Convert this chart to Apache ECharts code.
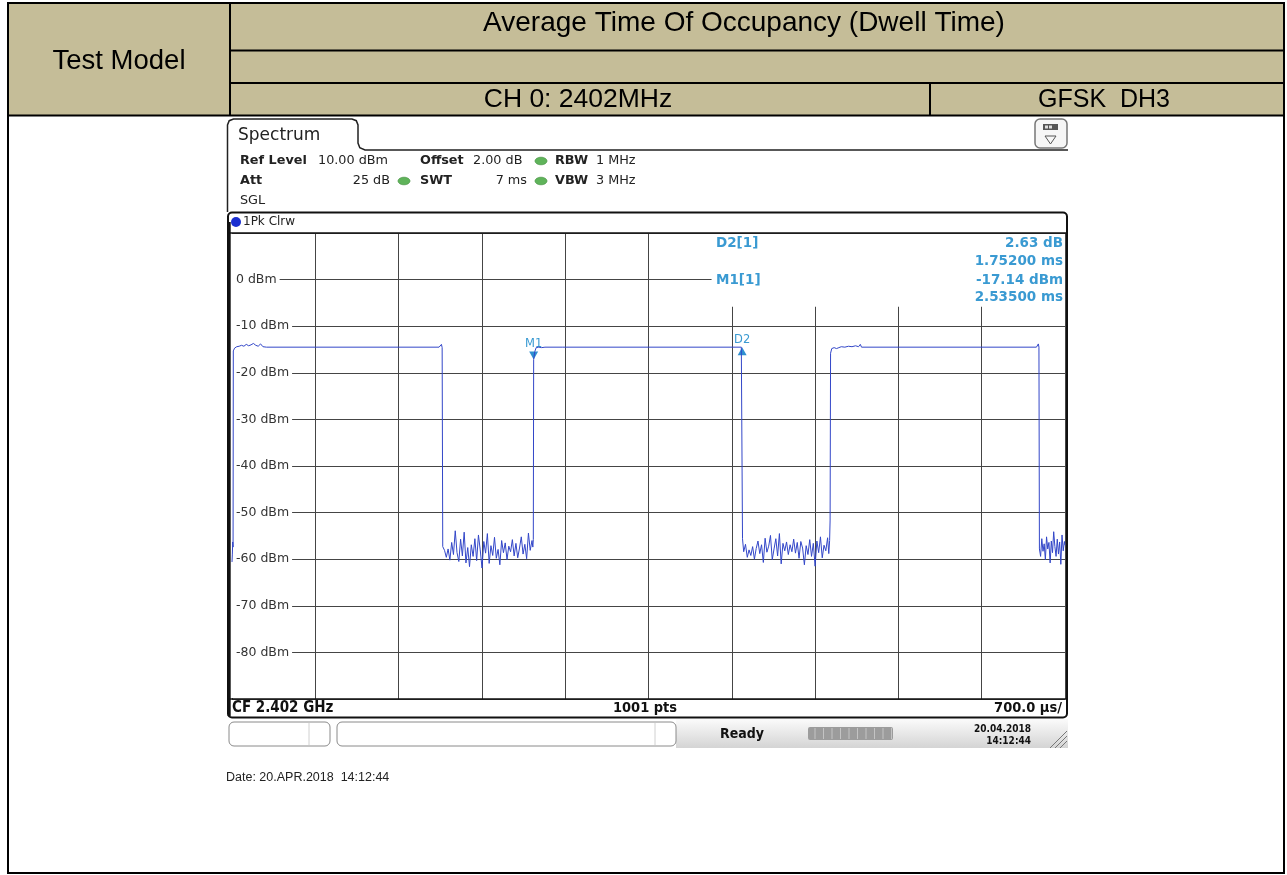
<!DOCTYPE html>
<html>
<head>
<meta charset="utf-8">
<title>Dwell Time CH 0</title>
<script src="https://cdn.jsdelivr.net/npm/echarts@6/dist/echarts.min.js"></script>
<style>
html, body { margin: 0; padding: 0; background: #fff; }
#chart { width: 1287px; height: 875px; }
</style>
</head>
<body>
<div id="chart"></div>
<script>
// trace: [time ms, level dBm]
const leadIn = [[0.000, -60.6], [0.003, -58.9], [0.006, -56.3], [0.009, -57.4]];
const pulse1 = [
  [0.011, -15.3], [0.022, -14.7], [0.040, -14.4], [0.060, -14.3], [0.080, -14.1], [0.100, -14.3],
  [0.120, -13.9], [0.140, -14.2], [0.160, -14.0], [0.180, -13.7], [0.200, -14.1], [0.220, -14.3],
  [0.240, -13.8], [0.260, -14.4], [0.290, -14.5], [1.740, -14.5], [1.752, -14.2], [1.760, -13.9],
  [1.766, -14.6]
];
const noiseA = [
  [1.771, -57.3], [1.786, -58.1], [1.801, -59.6], [1.816, -57.8], [1.831, -60.2], [1.846, -56.4],
  [1.861, -59.0], [1.876, -53.9], [1.891, -58.6], [1.906, -60.5], [1.921, -55.7], [1.936, -59.3],
  [1.951, -54.2], [1.966, -60.8], [1.981, -57.5], [1.996, -61.6], [2.011, -56.9], [2.026, -59.4],
  [2.041, -55.6], [2.056, -60.3], [2.071, -54.8], [2.086, -58.0], [2.101, -61.9], [2.116, -56.2],
  [2.131, -58.7], [2.146, -54.5], [2.161, -60.9], [2.176, -57.1], [2.191, -59.2], [2.206, -55.3],
  [2.221, -59.8], [2.236, -57.9], [2.251, -61.2], [2.266, -56.0], [2.281, -58.6], [2.296, -56.5],
  [2.311, -60.1], [2.326, -57.2], [2.341, -58.4], [2.356, -55.8], [2.371, -59.3], [2.386, -56.6],
  [2.401, -59.7], [2.416, -57.6], [2.431, -55.2], [2.446, -58.9], [2.461, -56.8], [2.476, -59.9],
  [2.491, -54.4], [2.506, -58.1], [2.521, -56.0]
];
const pulse2 = [
  [2.528, -57.4], [2.532, -55.8], [2.535, -17.14], [2.545, -15.4], [2.556, -14.6], [2.566, -15.0],
  [2.578, -14.5], [2.590, -14.9], [2.602, -14.6], [2.615, -14.8], [2.630, -14.5], [2.780, -14.5],
  [2.784, -14.1], [2.788, -14.5], [4.280, -14.5], [4.287, -14.51]
];
const noiseB = [
  [4.290, -55.6], [4.300, -58.4], [4.315, -56.8], [4.330, -59.6], [4.345, -58.0], [4.360, -59.2],
  [4.375, -57.3], [4.390, -60.0], [4.405, -57.7], [4.420, -56.1], [4.435, -58.8], [4.450, -56.9],
  [4.465, -60.7], [4.480, -55.5], [4.495, -58.5], [4.510, -57.2], [4.525, -54.9], [4.540, -60.1],
  [4.555, -57.8], [4.570, -55.6], [4.585, -59.3], [4.600, -54.5], [4.615, -61.0], [4.630, -56.6],
  [4.645, -58.2], [4.660, -56.3], [4.675, -59.0], [4.690, -56.9], [4.705, -58.4], [4.720, -55.7],
  [4.735, -58.7], [4.750, -56.4], [4.765, -59.8], [4.780, -56.2], [4.795, -57.6], [4.810, -61.2],
  [4.825, -57.1], [4.840, -59.0], [4.855, -55.8], [4.870, -59.4], [4.885, -56.6], [4.900, -61.5],
  [4.915, -56.1], [4.930, -58.6], [4.945, -55.2], [4.960, -59.7], [4.975, -57.0], [4.990, -58.2],
  [5.005, -55.4], [5.015, -58.8]
];
const pulse3 = [
  [5.022, -56.0], [5.026, -51.6], [5.030, -15.8], [5.040, -14.8], [5.060, -14.6], [5.080, -14.8],
  [5.100, -14.6], [5.120, -14.4], [5.150, -14.5], [5.180, -14.3], [5.210, -14.4], [5.240, -14.2],
  [5.265, -14.4], [5.280, -13.9], [5.290, -14.5], [6.760, -14.5], [6.770, -14.1], [6.776, -13.8],
  [6.781, -14.5]
];
const noiseC = [
  [6.785, -57.8], [6.795, -59.4], [6.805, -55.6], [6.815, -58.3], [6.825, -56.7], [6.835, -60.1],
  [6.845, -55.2], [6.855, -57.8], [6.865, -56.4], [6.875, -60.8], [6.885, -56.1], [6.895, -58.6],
  [6.905, -54.1], [6.915, -57.3], [6.925, -59.4], [6.935, -55.7], [6.945, -58.9], [6.955, -56.3],
  [6.965, -61.1], [6.975, -54.8], [6.985, -58.2], [6.995, -56.2], [7.000, -57.0]
];

const markers = [
  { name: 'M1', t: 2.535, level: -17.14, dir: 'down' },
  { name: 'D2', t: 4.287, level: -14.51, dir: 'up' }
];
// marker table lines: [left text, right text]
const readout = [
  ['D2[1]', '2.63 dB'],
  ['', '1.75200 ms'],
  ['M1[1]', '-17.14 dBm'],
  ['', '2.53500 ms']
];

const sweepMs = 7;       // 700 us/div
const refLevel = 10;     // dBm
const bottomLevel = -90; // 10 dB/div

const traceData = [].concat(leadIn, pulse1, noiseA, pulse2, noiseB, pulse3, noiseC);

const markerBlue = '#3a9ad2';
const tan = '#c5bd98';
const dv = '"DejaVu Sans", Verdana, sans-serif';
const dvc = '"DejaVu Sans Condensed", "DejaVu Sans", sans-serif';
const ar = '"Liberation Sans", Arial, sans-serif';

const g = [];
function line(x1, y1, x2, y2, color, w) {
  g.push({ type: 'line', z: 100, silent: true, shape: { x1, y1, x2, y2 },
    style: { stroke: color || '#000', lineWidth: w || 1 } });
}
function text(x, y, s, font, opt) {
  opt = opt || {};
  g.push({ type: 'text', z: 101, zlevel: opt.zlevel || 0, silent: true, x, y,
    style: { text: s, font: font, fill: opt.fill || '#222', align: opt.align || 'left', verticalAlign: 'middle' } });
}
function rect(x, y, w, h, style, r, z) {
  g.push({ type: 'rect', z: z || 99, silent: true, shape: { x, y, width: w, height: h, r: r || 0 }, style: style });
}

// ---- report table header ----
rect(8, 3, 1276, 112, { fill: tan }, 0, 1);
rect(8, 3, 1276, 870, { fill: null, stroke: '#000', lineWidth: 2 });
line(230, 3, 230, 115, '#000', 2);
line(230, 50.5, 1284, 50.5, '#000', 2);
line(230, 83, 1284, 83, '#000', 2);
line(8, 115.5, 1284, 115.5, '#000', 2);
line(930, 83, 930, 115, '#000', 2);
text(119, 61, 'Test Model', '27.5px ' + ar, { align: 'center', fill: '#000' });
text(744, 23, 'Average Time Of Occupancy (Dwell Time)', '28px ' + ar, { align: 'center', fill: '#000' });
text(578, 100, 'CH 0: 2402MHz', '26.5px ' + ar, { align: 'center', fill: '#000' });
text(1104, 100, 'GFSK  DH3', '25px ' + ar, { align: 'center', fill: '#000' });

// ---- analyzer screen ----
g.push({ type: 'polyline', z: 100, silent: true,
  shape: { points: [[227.5, 212], [227.5, 125], [229.2, 120.7], [233.5, 119], [352, 119], [356.3, 120.7],
    [358, 125], [358, 143], [359.8, 147.8], [365, 150], [1068, 150]] },
  style: { fill: null, stroke: '#222', lineWidth: 1.5 } });
text(238, 136, 'Spectrum', '17px ' + dv);
rect(1035, 119, 32, 29, { fill: '#f6f6f6', stroke: '#777', lineWidth: 1.5 }, 5);
rect(1043, 124, 15, 6, { fill: '#555' }, 0, 101);
rect(1045, 125.5, 3, 3, { fill: '#ddd' }, 0, 102);
rect(1049, 125.5, 3, 3, { fill: '#ddd' }, 0, 102);
g.push({ type: 'polygon', z: 101, silent: true, shape: { points: [[1045, 136], [1056, 136], [1050.5, 144]] },
  style: { fill: null, stroke: '#555', lineWidth: 1 } });

const fs = '12.8px ' + dv, fb = 'bold 12.8px ' + dv;
text(240, 161, 'Ref Level', fb);
text(318, 161, '10.00 dBm', fs);
text(420, 161, 'Offset', fb);
text(473, 161, '2.00 dB', fs);
text(555, 161, 'RBW', fb);
text(596, 161, '1 MHz', fs);
text(240, 181, 'Att', fb);
text(390, 181, '25 dB', fs, { align: 'right' });
text(420, 181, 'SWT', fb);
text(527, 181, '7 ms', fs, { align: 'right' });
text(555, 181, 'VBW', fb);
text(596, 181, '3 MHz', fs);
text(240, 200.5, 'SGL', fs);
[[541, 161], [404, 181], [541, 181]].forEach(function (p) {
  g.push({ type: 'ellipse', z: 101, silent: true, shape: { cx: p[0], cy: p[1], rx: 6, ry: 3.8 },
    style: { fill: '#5fb35a', stroke: '#3e8c3a', lineWidth: 0.6 } });
});

rect(228, 212.5, 839, 505, { fill: null, stroke: '#111', lineWidth: 2 }, 4);
line(229.2, 222, 229.2, 716, '#111', 3);
line(232.5, 234, 232.5, 698, '#fff', 1.4);   // the 0 ms grid line merges with the frame on the analyzer
g.push({ type: 'circle', z: 101, silent: true, shape: { cx: 236, cy: 222, r: 5 }, style: { fill: '#1a2ed0' } });
text(243, 222, '1Pk Clrw', '12px ' + dv);
line(228, 233, 1067, 233, '#111', 1.5);
line(228, 699, 1067, 699, '#111', 1.5);
text(232, 708, 'CF 2.402 GHz', 'bold 15px ' + dvc, { fill: '#111' });
text(645, 708, '1001 pts', 'bold 14.5px ' + dvc, { align: 'center', fill: '#111' });
text(1062, 708, '700.0 \u00b5s/', 'bold 14.5px ' + dvc, { align: 'right', fill: '#111' });

// marker table (drawn above the white marker area of the series layer)
readout.forEach(function (r, i) {
  const y = [243.5, 261.5, 280, 297.5][i];
  if (r[0]) text(716, y, r[0], 'bold 13.5px ' + dv, { fill: markerBlue, zlevel: 2 });
  text(1063, y, r[1], 'bold 13.5px ' + dv, { fill: markerBlue, align: 'right', zlevel: 2 });
});

// status bar
rect(676, 719, 392, 29, { fill: { type: 'linear', x: 0, y: 0, x2: 0, y2: 1,
  colorStops: [{ offset: 0, color: '#fbfbfb' }, { offset: 1, color: '#d4d4d4' }] } }, 0, 98);
rect(229, 722, 101, 24, { fill: '#fff', stroke: '#8a8a8a', lineWidth: 1 }, 5);
line(309, 723, 309, 745, '#d0d0d0', 1);
rect(337, 722, 339, 24, { fill: '#fff', stroke: '#8a8a8a', lineWidth: 1 }, 5);
line(655, 723, 655, 745, '#d0d0d0', 1);
text(742, 734, 'Ready', 'bold 14px ' + dvc, { align: 'center', fill: '#111' });
rect(808, 727, 85, 13, { fill: '#9c9c9c' }, 2);
for (let x = 815; x < 893; x += 8.5) line(x, 728, x, 739, '#c4c4c4', 1);
text(1031, 729, '20.04.2018', 'bold 10px ' + dvc, { align: 'right', fill: '#111' });
text(1031, 741, '14:12:44', 'bold 10px ' + dvc, { align: 'right', fill: '#111' });
line(1050, 748, 1067, 731, '#777', 1);
line(1055, 748, 1067, 736, '#777', 1);
line(1060, 748, 1067, 741, '#777', 1);

text(226, 778, 'Date: 20.APR.2018  14:12:44', '12.5px ' + ar, { fill: '#222' });

const markPoints = markers.map(function (m) {
  return {
    name: m.name, coord: [m.t, m.level],
    symbol: m.dir === 'down' ? 'path://M0,0 L10,0 L5,9 Z' : 'path://M5,0 L10,9 L0,9 Z',
    symbolSize: [9, 8],
    symbolOffset: [0, m.dir === 'down' ? -4 : 4],
    itemStyle: { color: '#2f8fd0' },
    label: { show: true, formatter: m.name, position: 'top', distance: 1,
      color: markerBlue, fontFamily: 'DejaVu Sans', fontSize: 11.5 }
  };
});

const chart = echarts.init(document.getElementById('chart'), null, { renderer: 'canvas' });
const option = {
  animation: false,
  backgroundColor: '#fff',
  grid: { left: 232, right: 222, top: 233, bottom: 176, containLabel: false },
  xAxis: {
    type: 'value', min: 0, max: sweepMs, interval: 0.7,
    axisLine: { show: false }, axisTick: { show: false }, axisLabel: { show: false },
    splitLine: { show: true, lineStyle: { color: '#454545', width: 1 } }
  },
  yAxis: {
    type: 'value', min: bottomLevel, max: refLevel, interval: 10,
    axisLine: { show: false }, axisTick: { show: false },
    axisLabel: {
      inside: true, margin: 0, showMinLabel: false, showMaxLabel: false,
      color: '#333', fontFamily: 'DejaVu Sans', fontSize: 12.5,
      backgroundColor: '#fff', padding: [1, 3, 1, 4],
      formatter: function (v) { return v + ' dBm'; }
    },
    splitLine: { show: true, lineStyle: { color: '#454545', width: 1 } }
  },
  graphic: { elements: g },
  series: [{
    type: 'line',
    zlevel: 1,
    data: traceData,
    symbol: 'none',
    lineStyle: { color: '#3246c8', width: 1 },
    markArea: {
      silent: true, itemStyle: { color: '#fff' },
      data: [[{ coord: [3.515, 9.8] }, { coord: [sweepMs, -5.8] }]]
    },
    markLine: {
      silent: true, symbol: 'none', label: { show: false },
      lineStyle: { color: '#454545', width: 1, type: 'solid' },
      data: [[{ coord: [3.5, 0] }, { coord: [4.03, 0] }]]
    },
    markPoint: { silent: true, data: markPoints }
  }]
};
chart.setOption(option);
</script>
</body>
</html>
